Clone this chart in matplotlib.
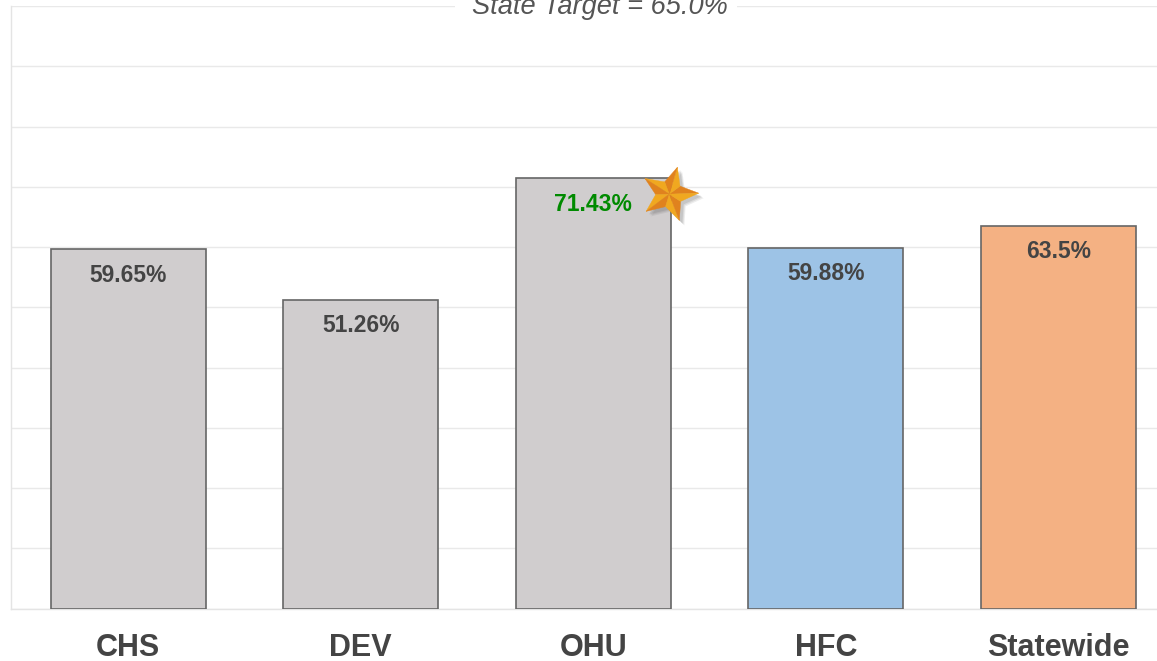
import numpy as np
import matplotlib
matplotlib.use('Agg')
import matplotlib.pyplot as plt
from matplotlib.patches import Polygon
from matplotlib.transforms import IdentityTransform

plt.rcParams['font.family'] = ['Liberation Sans', 'DejaVu Sans']

categories = ['CHS', 'DEV', 'OHU', 'HFC', 'Statewide']
values = [59.65, 51.26, 71.43, 59.88, 63.5]
labels = ['59.65%', '51.26%', '71.43%', '59.88%', '63.5%']
bar_colors = ['#d0cdce', '#d0cdce', '#d0cdce', '#9dc3e6', '#f4b183']
label_colors = ['#444444', '#444444', '#008a00', '#444444', '#444444']
target_text = 'State Target = 65.0%'
yticks = [0, 10, 20, 30, 40, 50, 60, 70, 80, 90, 100]

W, H = 1157, 661
fig = plt.figure(figsize=(W / 100, H / 100), dpi=100)
ax = fig.add_axes([11 / W, (H - 608.5) / H, (W - 11) / W, 602.5 / H])

# 232.5 px between bars, first bar centred at 128.3 px
ax.set_xlim((11 - 128.3) / 232.5, (W - 128.3) / 232.5)
ax.set_ylim(0, 100)

x = np.arange(len(categories))
ax.bar(x, values, width=0.668, color=bar_colors, edgecolor='#666666', linewidth=1.2, zorder=3)

ax.set_yticks(yticks)
ax.set_yticklabels([])
ax.grid(axis='y', color='#e9e9e9', linewidth=1.0, zorder=0)
ax.tick_params(axis='both', length=0)
ax.set_xticks(x)
ax.set_xticklabels(categories, fontsize=22, fontweight='bold', color='#444444')
ax.tick_params(axis='x', pad=17.5)

for s in ['top', 'right']:
    ax.spines[s].set_visible(False)
for s in ['left', 'bottom']:
    ax.spines[s].set_color('#e4e4e4')
    ax.spines[s].set_linewidth(1.0)

for i, v in enumerate(values):
    ax.annotate(labels[i], xy=(i, v), xytext=(0, -26 * 0.72), textcoords='offset points',
                ha='center', va='center', fontsize=16.5, fontweight='bold',
                color=label_colors[i], zorder=5)

# target caption sits on the top gridline, white box breaks the line
fig.patches.append(plt.Rectangle((455 / W, (H - 12) / H), 282 / W, 12 / H, facecolor='white',
                                 edgecolor='none', transform=fig.transFigure, zorder=5))
fig.text(599.5 / W, (H - 7) / H, target_text, ha='center', va='center', fontsize=19.6,
         style='italic', color='#555555', zorder=6)

# star badge at top right corner of the OHU bar
cx, cy = ax.transData.transform((2, values[2]))
cx += 76
cy -= 16
angles = np.deg2rad(np.arange(0, 360, 36) + 2)
radii = np.array([28, 13] * 5)
px = cx + radii * np.cos(angles) * 1.05
py = cy + radii * np.sin(angles)
tr = IdentityTransform()

for off, a in [(5, 0.10), (4, 0.12), (3, 0.15)]:
    fig.add_artist(Polygon(np.c_[px + off, py - off], closed=True, facecolor='#555555',
                           edgecolor='none', alpha=a, transform=tr, zorder=7))
for k in range(10):
    j = (k + 1) % 10
    facet = '#f0a820' if k % 2 == 1 else '#e0821e'
    fig.add_artist(Polygon([(cx, cy), (px[k], py[k]), (px[j], py[j])], closed=True,
                           facecolor=facet, edgecolor=facet, linewidth=0.3,
                           transform=tr, zorder=8))

fig.savefig('out.png', dpi=100)
